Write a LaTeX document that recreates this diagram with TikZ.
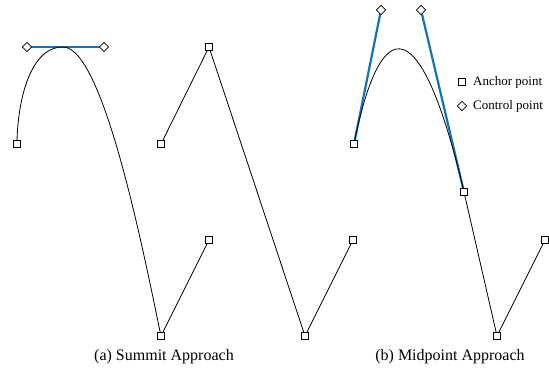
\documentclass[tikz,border=0pt]{standalone}
\usepackage{fontspec}
\setmainfont{Liberation Serif}
\usetikzlibrary{shapes.geometric}
\definecolor{handle}{RGB}{22,114,184}
\tikzset{
  anchorpt/.style={draw=black, fill=white, line width=0.7pt, rectangle, inner sep=0pt, minimum size=7pt},
  ctrlpt/.style={draw=black, fill=white, line width=0.7pt, diamond, inner sep=0pt, minimum size=9.5pt},
  curveline/.style={draw=black, line width=0.8pt},
  handleline/.style={draw=handle, line width=2.2pt},
  caption/.style={font=\fontsize{16}{18}\selectfont, inner sep=0pt},
  legendtext/.style={font=\fontsize{13}{15}\selectfont, inner sep=0pt, anchor=west}
}
\begin{document}
\begin{tikzpicture}[x=1pt, y=-1pt]
\useasboundingbox (0,0) rectangle (549,372);
% coordinates
\coordinate (apeak) at (63,47);
\coordinate (bpeak) at (403,49);
% anchor positions
\path
  (17,144) coordinate (pa1)
  (161,336) coordinate (pa2)
  (209,240) coordinate (pa3)
  (161,144) coordinate (pm1)
  (209,47) coordinate (pm2)
  (305,336) coordinate (pm3)
  (353,240) coordinate (pm4)
  (354,144) coordinate (pb1)
  (464,192) coordinate (pb2)
  (497,336) coordinate (pb3)
  (545,240) coordinate (pb4)
  (27,47) coordinate (pca)
  (104,47) coordinate (pcb)
  (381,10) coordinate (pcc)
  (421,10) coordinate (pcd);
% handles
\draw[handleline] (pca) -- (pcb);
\draw[handleline] (pb1) -- (pcc);
\draw[handleline] (pcd) -- (pb2);
% curves (a)
\draw[curveline] (pa1) .. controls (17,110) and (pca) .. (apeak)
  .. controls (pcb) and (145,260) .. (pa2) -- (pa3);
% middle polyline
\draw[curveline] (pm1) -- (pm2) -- (pm3) -- (pm4);
% curves (b)
\draw[curveline] (pb1) .. controls (pcc) and (pcd) .. (pb2) -- (pb3) -- (pb4);
% markers
\node[anchorpt] (a1) at (pa1) {};
\node[anchorpt] (a2) at (pa2) {};
\node[anchorpt] (a3) at (pa3) {};
\node[anchorpt] (m1) at (pm1) {};
\node[anchorpt] (m2) at (pm2) {};
\node[anchorpt] (m3) at (pm3) {};
\node[anchorpt] (m4) at (pm4) {};
\node[anchorpt] (b1) at (pb1) {};
\node[anchorpt] (b2) at (pb2) {};
\node[anchorpt] (b3) at (pb3) {};
\node[anchorpt] (b4) at (pb4) {};
\node[ctrlpt] (ca) at (pca) {};
\node[ctrlpt] (cb) at (pcb) {};
\node[ctrlpt] (cc) at (pcc) {};
\node[ctrlpt] (cd) at (pcd) {};
% legend
\node[anchorpt] (lga) at (462,82) {};
\node[ctrlpt] (lgc) at (462,106) {};
\node[legendtext] (lta) at (473,82) {Anchor point};
\node[legendtext] (ltc) at (473,106) {Control point};
% captions
\node[caption] (capa) at (164,357) {(a) Summit Approach};
\node[caption] (capb) at (450,357) {(b) Midpoint Approach};
\end{tikzpicture}
\end{document}
